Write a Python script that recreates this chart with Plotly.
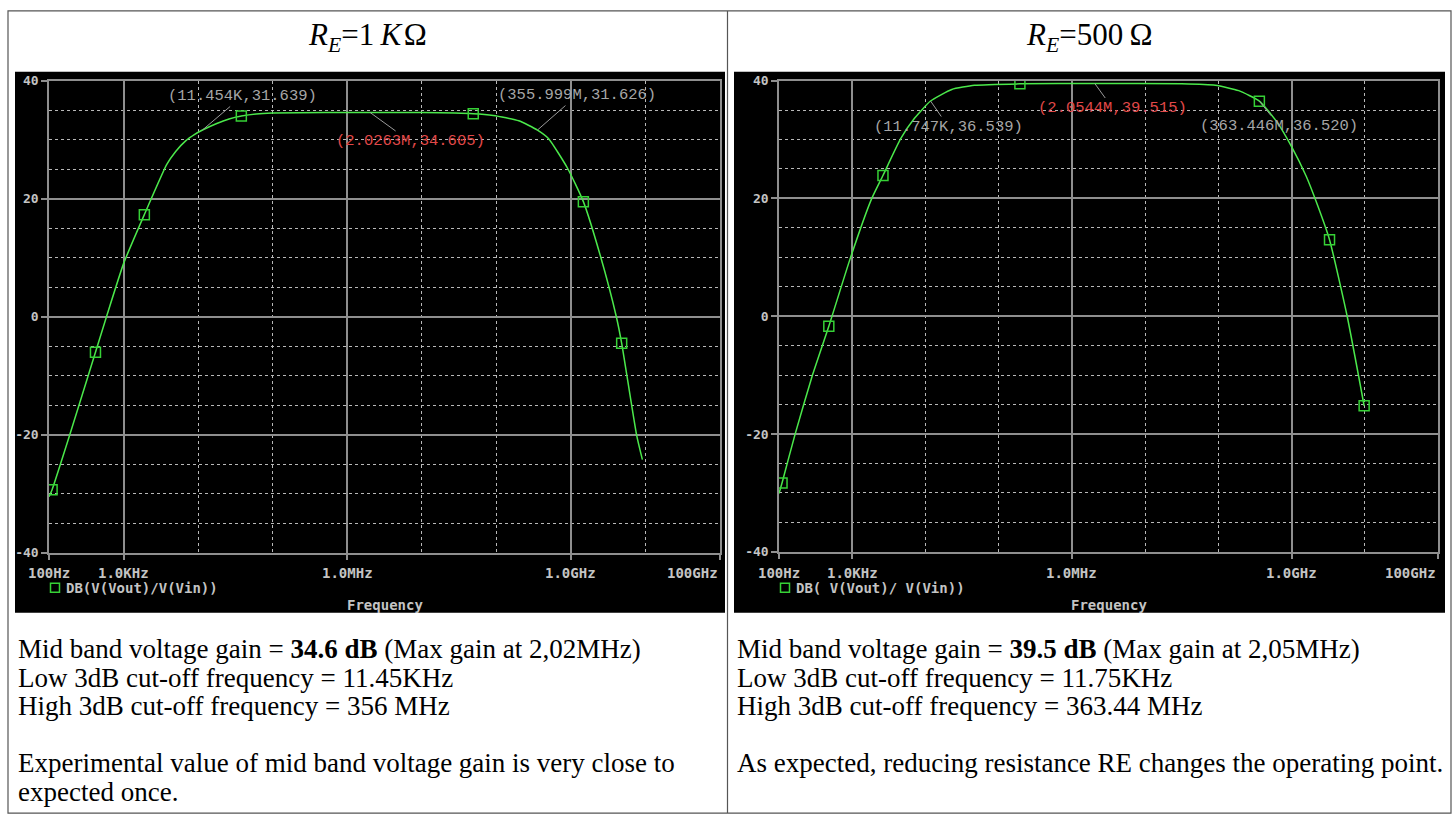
import numpy as np
import plotly.graph_objects as go

W, H = 1453, 823

# ---------------- data ----------------
# R_E = 1 kOhm : frequency response DB(V(Vout)/V(Vin))
freq_1k_hz = [100, 110, 190, 420, 590, 1000, 1900, 3800, 5000, 6800, 9000, 11454,
              17800, 26000, 38000, 60000, 1.0e5, 5.0e5, 2.0263e6, 1.0e7, 4.9e7, 9.1e7,
              2.0e8, 3.56e8, 5.0e8, 8.98e8, 1.47e9, 2.5e9, 4.07e9, 4.8e9, 7.6e9, 9.1e9]
gain_1k_db = [-30.5, -29.3, -20.0, -6.0, 0.0, 9.0, 17.3, 25.8, 28.0, 29.8, 30.9, 31.639,
              32.75, 33.5, 34.0, 34.35, 34.5, 34.59, 34.605, 34.58, 34.4, 34.1,
              33.2, 31.626, 30.2, 25.2, 19.5, 10.2, 0.0, -4.5, -20.0, -24.2]
marker_1k_hz = [110, 420, 1900, 38000, 4.9e7, 1.47e9, 4.8e9]
marker_1k_db = [-29.3, -6.0, 17.3, 34.0, 34.4, 19.5, -4.5]

# R_E = 500 Ohm
freq_500_hz = [100, 110, 166, 288, 479, 933, 1820, 2630, 4570, 7080, 11747, 22900,
               46800, 1.95e5, 2.0544e6, 3.16e7, 9.1e7, 1.9e8, 3.63446e8, 6.3e8,
               1.0e9, 1.58e9, 2.24e9, 3.3e9, 5.75e9, 9.8e9]
gain_500_db = [-30.1, -28.3, -20.0, -9.9, -1.7, 9.7, 19.8, 23.9, 30.1, 33.6, 36.539, 38.5,
               39.2, 39.45, 39.515, 39.45, 39.2, 38.3, 36.520, 33.0,
               28.8, 23.8, 19.0, 13.0, 0.0, -15.2]
marker_500_hz = [110, 479, 2630, 1.95e5, 3.63446e8, 3.3e9, 9.8e9]
marker_500_db = [-28.3, -1.7, 23.9, 39.45, 36.520, 13.0, -15.2]

# cursor read-outs: (freq, dB, label, colour-key)
cursors_1k = [(11454, 31.639, "(11.454K,31.639)", "grey"),
              (355.999e6, 31.626, "(355.999M,31.626)", "grey"),
              (2.0263e6, 34.605, "(2.0263M,34.605)", "red")]
cursors_500 = [(2.0544e6, 39.515, "(2.0544M,39.515)", "red"),
               (11747, 36.539, "(11.747K,36.539)", "grey"),
               (363.446e6, 36.520, "(363.446M,36.520)", "grey")]

x_tick_vals = [1e2, 1e3, 1e6, 1e9, 1e11]
x_tick_text = ["100Hz", "1.0KHz", "1.0MHz", "1.0GHz", "100GHz"]
x_minor_vals = [1e4, 1e5, 1e7, 1e8, 1e10]
y_tick_vals = [-40, -20, 0, 20, 40]
y_tick_text = ["-40", "-20", "0", "20", "40"]
y_minor_vals = [-35, -30, -25, -15, -10, -5, 5, 10, 15, 25, 30, 35]

titles = ["<i>R</i><sub><i>E</i></sub>=1\u2009<i>K</i>\u200aΩ",
          "<i>R</i><sub><i>E</i></sub>=500\u2009Ω"]
legend_texts = ["DB(V(Vout)/V(Vin))", "DB( V(Vout)/ V(Vin))"]
notes_left = ["Mid band voltage gain = <b>34.6 dB</b> (Max gain at 2,02MHz)",
              "Low 3dB cut-off frequency = 11.45KHz",
              "High 3dB cut-off frequency = 356 MHz",
              "",
              "Experimental value of mid band voltage gain is very close to",
              "expected once."]
notes_right = ["Mid band voltage gain = <b>39.5 dB</b> (Max gain at 2,05MHz)",
               "Low 3dB cut-off frequency = 11.75KHz",
               "High 3dB cut-off frequency = 363.44 MHz",
               "",
               "As expected, reducing resistance RE changes the operating point.",
               ""]

# ---------------- styling ----------------
def px(x):
    return x / W

def py(y):
    return 1 - y / H

GREEN = "#4be84b"
MGREEN = "#36d136"
SOLID = "#8f8f8f"
DASH = "#b8b8b8"
TXT = "#c4c4c4"
CUR_GREY = "#a6a6a6"
CUR_RED = "#e04848"
MONO = "DejaVu Sans Mono"

panels = [
    dict(xa="x", ya="y", dom_x=(49, 720), dom_y=(75, 556), black=(15, 725),
         cell=(8, 727), f=freq_1k_hz, g=gain_1k_db, mf=marker_1k_hz, mg=marker_1k_db,
         cursors=cursors_1k, offs=[(40, -34), (40, -35), (40, 29)]),
    dict(xa="x2", ya="y2", dom_x=(779, 1438), dom_y=(75, 555), black=(734, 1445),
         cell=(727, 1451), f=freq_500_hz, g=gain_500_db, mf=marker_500_hz, mg=marker_500_db,
         cursors=cursors_500, offs=[(18, 25), (18, 26), (20, 25)]),
]

fig = go.Figure()
shapes = []
annotations = []
layout_axes = {}

for i, p in enumerate(panels):
    fig.add_trace(go.Scatter(x=p["f"], y=p["g"], mode="lines", xaxis=p["xa"], yaxis=p["ya"],
                             line=dict(color=GREEN, width=1.5, shape="spline", smoothing=0.5),
                             showlegend=False, hoverinfo="skip"))
    fig.add_trace(go.Scatter(x=p["mf"], y=p["mg"], mode="markers", xaxis=p["xa"], yaxis=p["ya"],
                             marker=dict(symbol="square-open", size=10, color=MGREEN,
                                         line=dict(width=1.5, color=MGREEN)),
                             showlegend=False, hoverinfo="skip"))

    suffix = "" if i == 0 else "2"
    layout_axes["xaxis" + suffix] = dict(
        type="log", range=[2, 11], domain=[px(p["dom_x"][0]), px(p["dom_x"][1])],
        anchor="y" + suffix, tickmode="array", tickvals=x_tick_vals, showticklabels=False,
        ticks="outside", ticklen=5, tickcolor=SOLID, tickwidth=1.5,
        showgrid=True, gridcolor=SOLID, gridwidth=1.5,
        showline=True, mirror=True, linecolor=SOLID, linewidth=1.5, zeroline=False,
        minor=dict(tickmode="array", tickvals=x_minor_vals, showgrid=True, gridcolor=DASH,
                   griddash="3px,3px", gridwidth=1, ticks=""),
        fixedrange=True)
    layout_axes["yaxis" + suffix] = dict(
        range=[-40, 40], domain=[py(p["dom_y"][1]), py(p["dom_y"][0])],
        anchor="x" + suffix, tickmode="array", tickvals=y_tick_vals, ticktext=y_tick_text,
        tickfont=dict(family=MONO, size=13, color=TXT, weight="bold"),
        ticks="outside", ticklen=6, tickcolor=SOLID, tickwidth=1.5,
        showgrid=True, gridcolor=SOLID, gridwidth=1.5,
        showline=True, mirror=True, linecolor=SOLID, linewidth=1.5, zeroline=False,
        minor=dict(tickmode="array", tickvals=y_minor_vals, showgrid=True, gridcolor=DASH,
                   griddash="3px,3px", gridwidth=1, ticks=""),
        fixedrange=True)

    # black PSpice window
    shapes.append(dict(type="rect", xref="paper", yref="paper", layer="below",
                       x0=px(p["black"][0]), x1=px(p["black"][1]), y0=py(617), y1=py(66),
                       fillcolor="black", line=dict(width=0)))

    # x tick labels
    for v, t in zip(x_tick_vals, x_tick_text):
        anchor = "right" if v == x_tick_vals[-1] else "center"
        annotations.append(dict(xref=p["xa"], yref="paper", x=np.log10(v), y=py(576),
                                text=t, showarrow=False, xanchor=anchor, yanchor="middle",
                                font=dict(family=MONO, size=14, color=TXT, weight="bold")))

    # legend entry
    lx = p["dom_x"][0] + 6
    shapes.append(dict(type="rect", xref="paper", yref="paper",
                       x0=px(lx - 4.5), x1=px(lx + 4.5), y0=py(596), y1=py(587),
                       line=dict(color=MGREEN, width=1.5), fillcolor="rgba(0,0,0,0)"))
    annotations.append(dict(xref="paper", yref="paper", x=px(lx + 9), y=py(592),
                            text=legend_texts[i], showarrow=False, xanchor="left",
                            yanchor="middle",
                            font=dict(family=MONO, size=14, color=TXT, weight="bold")))
    annotations.append(dict(xref="paper", yref="paper",
                            x=px((p["dom_x"][0] + p["dom_x"][1]) / 2), y=py(609),
                            text="Frequency", showarrow=False, xanchor="center",
                            yanchor="middle",
                            font=dict(family=MONO, size=14, color=TXT, weight="bold")))

    # cursor read-outs
    for (fc, dbc, lab, col), (ox, oy) in zip(p["cursors"], p["offs"]):
        annotations.append(dict(xref=p["xa"], yref=p["ya"], x=np.log10(fc), y=dbc,
                                ax=ox, ay=oy, text=lab, showarrow=True, arrowhead=0,
                                arrowwidth=1, arrowcolor="#9a9a9a", standoff=0,
                                font=dict(family="Liberation Mono", size=15.5,
                                          color=CUR_RED if col == "red" else CUR_GREY)))

    # title
    annotations.append(dict(xref="paper", yref="paper", x=px((p["cell"][0] + p["cell"][1]) / 2),
                            y=py(31), text=titles[i], showarrow=False, xanchor="center",
                            yanchor="middle",
                            font=dict(family="Liberation Serif", size=31, color="black")))

    # notes under the plot
    notes = notes_left if i == 0 else notes_right
    line_y = [654, 683, 712, 741, 770, 800]
    for t, yy in zip(notes, line_y):
        if t:
            annotations.append(dict(xref="paper", yref="paper", x=px(p["black"][0] + 1),
                                    y=py(yy), text=t, showarrow=False, xanchor="left",
                                    yanchor="middle",
                                    font=dict(family="Liberation Serif", size=27,
                                              color="black")))

# table borders
border = "#555555"
shapes.append(dict(type="rect", xref="paper", yref="paper", x0=px(8), x1=px(1451),
                   y0=py(821), y1=py(4), line=dict(color=border, width=1.2),
                   fillcolor="rgba(0,0,0,0)"))
shapes.append(dict(type="line", xref="paper", yref="paper", x0=px(727.5), x1=px(727.5),
                   y0=py(821), y1=py(4), line=dict(color=border, width=1.2)))

fig.update_layout(width=W, height=H, margin=dict(l=0, r=0, t=0, b=0),
                  paper_bgcolor="white", plot_bgcolor="black",
                  shapes=shapes, annotations=annotations, showlegend=False,
                  **layout_axes)

fig.write_html("out.html", config={"displayModeBar": False})
